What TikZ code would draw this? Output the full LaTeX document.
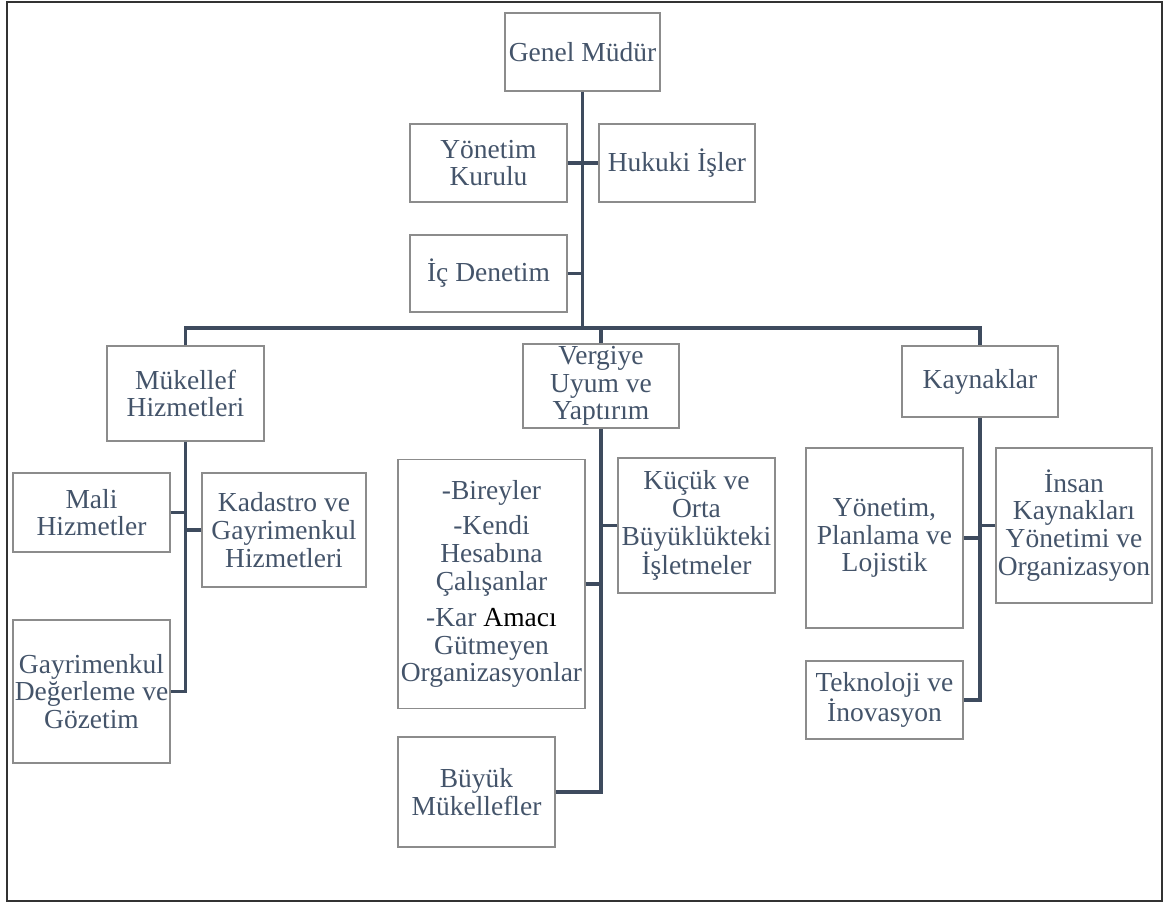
\documentclass[tikz,border=0pt]{standalone}
\usepackage{fontspec}
\setmainfont{Liberation Serif}
\usepackage{tikz}
\definecolor{orgtext}{HTML}{44546A}
\definecolor{orgline}{HTML}{3E4B5E}
\definecolor{orgbox}{HTML}{8C8C8C}
\begin{document}
\begin{tikzpicture}[x=1pt,y=-1pt,
	box/.style={draw=orgbox,line width=1.3pt,rectangle,inner sep=0pt,align=center,text=orgtext,
		minimum width=157pt,minimum height=78pt,font=\fontsize{27.5}{27.8}\selectfont},
	link/.style={draw=orgline,line width=3.6pt}]
			\useasboundingbox (0,0) rectangle (1168,904);
			\draw[line width=2pt,draw=black!80] (7,2) rectangle (1162,901);
			\node[box,minimum width=155pt] (gm) at (582.5,52) {Genel Müdür};
			\node[box] (yk) at (488.5,163) {Yönetim\\Kurulu};
			\node[box,minimum width=156pt] (hi) at (677,163) {Hukuki İşler};
			\node[box,minimum height=77pt] (ic) at (488.5,273.5) {İç Denetim};
			\node[box,minimum height=95pt] (mh) at (185.5,393.5) {Mükellef\\Hizmetleri};
			\node[box,minimum width=156pt,minimum height=84pt] (vu) at (601,386) {Vergiye\\Uyum ve\\Yaptırım};
			\node[box,minimum width=156pt,minimum height=71pt] (kay) at (980,381.5) {Kaynaklar};
			\node[box,minimum height=79pt] (mali) at (91.5,512.5) {Mali\\Hizmetler};
			\node[box,minimum width=164pt,minimum height=114pt] (kad) at (284,530) {Kadastro ve\\Gayrimenkul\\Hizmetleri};
			\node[box,minimum height=143pt] (gd) at (91.5,691.5) {Gayrimenkul\\Değerleme ve\\Gözetim};
			\node[box,minimum width=187pt,minimum height=249pt] (bir) at (491.5,584) {-Bireyler\\[8pt]-Kendi\\Hesabına\\Çalışanlar\\[8pt]-Kar \textcolor{black}{Amacı}\\Gütmeyen\\Organizasyonlar};
			\node[box,minimum height=135pt] (kuc) at (696.5,525.5) {Küçük ve\\Orta\\Büyüklükteki\\İşletmeler};
			\node[box,minimum height=110pt] (bm) at (476.5,792) {Büyük\\Mükellefler};
			\node[box,minimum height=180pt] (ypl) at (884.5,538) {Yönetim,\\Planlama ve\\Lojistik};
			\node[box,minimum width=156pt,minimum height=155pt] (ik) at (1074,525.5) {İnsan\\Kaynakları\\Yönetimi ve\\Organizasyon};
			\node[box] (tek) at (884.5,700) {Teknoloji ve\\İnovasyon};
			\coordinate (bus) at (583,328);
			\draw[link] (gm.south) -- (gm.south |- bus);
			\draw[link] (yk.east) -- (hi.west);
			\draw[link] (ic.east) -- (ic.east -| gm.south);
			\draw[link] (mh.north) -- (mh.north |- bus) -- (kay.north |- bus) -- (kay.north);
			\draw[link] (vu.north) -- (vu.north |- bus);
			\draw[link] (mh.south) -- (mh.south |- gd.east) -- (gd.east);
			\draw[link] (mali.east) -- (mali.east -| mh.south);
			\draw[link] (kad.west) -- (kad.west -| mh.south);
			\draw[link] (vu.south) -- (vu.south |- bm.east) -- (bm.east);
			\draw[link] (bir.east) -- (bir.east -| vu.south);
			\draw[link] (kuc.west) -- (kuc.west -| vu.south);
			\draw[link] (kay.south) -- (kay.south |- tek.east) -- (tek.east);
			\draw[link] (ypl.east) -- (ypl.east -| kay.south);
			\draw[link] (ik.west) -- (ik.west -| kay.south);
		\end{tikzpicture}
\end{document}
